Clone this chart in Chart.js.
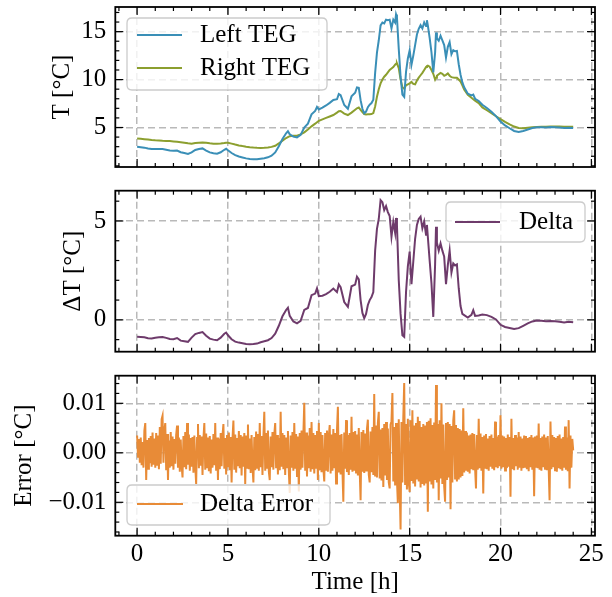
<!DOCTYPE html>
<html><head><meta charset="utf-8">
<script src="https://cdn.jsdelivr.net/npm/chart.js@4.4.1/dist/chart.umd.min.js"></script>
<style>
html,body{margin:0;padding:0;background:#fff;}
#wrap{position:relative;width:612px;height:597px;overflow:hidden;background:#fff;}
canvas{position:absolute;left:0;}
</style></head><body>
<div id="wrap">
<canvas id="c1" width="612" height="180" style="top:0px"></canvas>
<canvas id="c2" width="612" height="180" style="top:180px"></canvas>
<canvas id="c3" width="612" height="237" style="top:360px"></canvas>
</div>
<script>
// ---------- data ----------
const hours = [0,0.2,0.4,0.6,0.8,1,1.2,1.4,1.6,1.8,2,2.2,2.4,2.6,2.8,3,3.2,3.4,3.6,3.8,4,4.2,4.4,4.6,4.8,4.9,5,5.2,5.4,5.6,5.8,6,6.2,6.4,6.6,6.8,7,7.2,7.4,7.6,7.8,8,8.2,8.3,8.4,8.6,8.8,9,9.2,9.4,9.6,9.8,9.9,10,10.2,10.4,10.6,10.8,11,11.1,11.2,11.4,11.6,11.8,12,12.1,12.2,12.3,12.4,12.5,12.6,12.7,12.8,12.9,13,13.1,13.2,13.3,13.4,13.5,13.6,13.7,13.8,13.9,14,14.1,14.2,14.25,14.3,14.4,14.5,14.6,14.7,14.8,14.9,15,15.1,15.2,15.3,15.4,15.5,15.6,15.7,15.8,15.9,15.95,16,16.1,16.2,16.3,16.4,16.45,16.5,16.6,16.7,16.8,16.9,17,17.1,17.2,17.3,17.4,17.5,17.6,17.7,17.8,17.9,18,18.2,18.4,18.5,18.6,18.8,19,19.25,19.5,19.75,20,20.25,20.5,20.75,21,21.25,21.5,21.75,22,22.25,22.5,22.75,23,23.25,23.5,23.75,24];
const leftTEG = [2.99,2.95,2.90,2.81,2.76,2.77,2.77,2.75,2.69,2.61,2.57,2.60,2.42,2.34,2.24,2.40,2.66,2.76,2.82,2.60,2.40,2.31,2.27,2.42,2.68,2.78,2.62,2.34,2.12,1.98,1.88,1.78,1.72,1.69,1.68,1.74,1.80,1.89,2.06,2.40,3.05,3.80,4.40,4.61,4.30,4.05,3.97,4.23,5.00,5.40,6.37,6.73,7.14,6.89,7.07,7.30,7.57,7.88,7.95,8.49,8.37,7.35,6.96,8.25,8.63,9.18,9.14,7.85,6.95,6.48,6.66,7.12,7.38,7.55,7.90,10.70,12.80,14.10,15.65,15.95,15.85,16.25,16.20,16.25,15.35,16.25,15.95,16.80,16.49,13.20,10.30,8.42,8.19,10.80,12.20,13.05,11.55,12.50,13.60,14.70,15.30,15.67,15.33,15.97,15.60,16.20,15.65,14.34,12.85,10.75,12.80,14.91,14.30,14.05,14.57,14.10,13.60,12.30,13.41,13.90,12.65,13.07,12.95,12.99,11.60,10.50,9.70,9.19,8.52,8.35,8.44,8.00,7.77,7.37,7.04,6.65,6.19,5.63,5.22,4.92,4.64,4.54,4.63,4.79,4.94,5.02,5.02,5.01,5.04,5.03,5.00,4.96,4.98,4.95];
const rightTEG = [3.85,3.82,3.78,3.74,3.70,3.67,3.65,3.62,3.60,3.58,3.55,3.52,3.47,3.42,3.35,3.30,3.38,3.42,3.44,3.40,3.35,3.31,3.30,3.32,3.38,3.42,3.40,3.32,3.22,3.13,3.06,3.00,2.95,2.91,2.88,2.87,2.88,2.92,2.98,3.10,3.35,3.62,3.90,4.00,4.10,4.13,4.15,4.28,4.50,4.80,5.12,5.40,5.55,5.69,5.85,6.00,6.15,6.30,6.55,6.70,6.72,6.45,6.30,6.55,6.85,7.00,7.09,6.85,6.60,6.40,6.36,6.37,6.38,6.40,6.50,7.20,8.20,9.00,9.60,10.00,10.30,10.50,10.75,11.00,11.15,11.30,11.55,11.65,11.69,11.20,10.00,9.20,9.05,9.40,9.50,9.60,9.75,9.55,9.50,9.90,10.20,10.45,10.70,11.00,11.30,11.40,11.45,11.34,11.00,10.60,10.00,10.20,10.40,10.55,10.70,10.60,10.40,10.50,10.64,10.40,10.25,10.22,10.20,10.19,10.00,9.80,9.40,8.95,8.40,8.10,7.95,7.80,7.55,7.10,6.80,6.50,6.17,5.88,5.58,5.33,5.10,4.96,4.93,4.97,5.02,5.05,5.07,5.08,5.10,5.10,5.10,5.09,5.08,5.07];
const delta = [-0.86,-0.87,-0.88,-0.93,-0.94,-0.90,-0.88,-0.87,-0.91,-0.97,-0.98,-0.92,-1.05,-1.08,-1.11,-0.90,-0.72,-0.66,-0.62,-0.80,-0.95,-1.00,-1.03,-0.90,-0.70,-0.64,-0.78,-0.98,-1.10,-1.15,-1.18,-1.22,-1.23,-1.22,-1.20,-1.13,-1.08,-1.03,-0.92,-0.70,-0.30,0.18,0.50,0.61,0.20,-0.08,-0.18,-0.05,0.50,0.60,1.25,1.33,1.59,1.20,1.22,1.30,1.42,1.58,1.40,1.79,1.65,0.90,0.66,1.70,1.78,2.18,2.05,1.00,0.35,0.08,0.30,0.75,1.00,1.15,1.40,3.50,4.60,5.10,6.05,5.95,5.55,5.75,5.45,5.25,4.20,4.95,4.40,5.15,4.80,2.00,0.30,-0.78,-0.86,1.40,2.70,3.45,1.80,2.95,4.10,4.80,5.10,5.22,4.63,4.97,4.30,4.80,4.20,3.00,1.85,0.15,2.80,4.71,3.90,3.50,3.87,3.50,3.20,1.80,2.77,3.50,2.40,2.85,2.75,2.80,1.60,0.70,0.30,0.24,0.12,0.25,0.49,0.20,0.22,0.27,0.24,0.15,0.02,-0.25,-0.36,-0.41,-0.46,-0.42,-0.30,-0.18,-0.08,-0.03,-0.05,-0.07,-0.06,-0.07,-0.10,-0.13,-0.10,-0.12];
const errHours = [
0,0.05,0.1,0.15,0.2,0.25,0.3,0.35,0.4,0.45,0.5,0.55,0.6,0.65,0.7,0.75,0.8,0.85,0.9,0.95,
1,1.05,1.1,1.15,1.2,1.25,1.3,1.35,1.4,1.45,1.5,1.55,1.6,1.65,1.7,1.75,1.8,1.85,1.9,1.95,
2,2.05,2.1,2.15,2.2,2.25,2.3,2.35,2.4,2.45,2.5,2.55,2.6,2.65,2.7,2.75,2.8,2.85,2.9,2.95,
3,3.05,3.1,3.15,3.2,3.25,3.3,3.35,3.4,3.45,3.5,3.55,3.6,3.65,3.7,3.75,3.8,3.85,3.9,3.95,
4,4.05,4.1,4.15,4.2,4.25,4.3,4.35,4.4,4.45,4.5,4.55,4.6,4.65,4.7,4.75,4.8,4.85,4.9,4.95,
5,5.05,5.1,5.15,5.2,5.25,5.3,5.35,5.4,5.45,5.5,5.55,5.6,5.65,5.7,5.75,5.8,5.85,5.9,5.95,
6,6.05,6.1,6.15,6.2,6.25,6.3,6.35,6.4,6.45,6.5,6.55,6.6,6.65,6.7,6.75,6.8,6.85,6.9,6.95,
7,7.05,7.1,7.15,7.2,7.25,7.3,7.35,7.4,7.45,7.5,7.55,7.6,7.65,7.7,7.75,7.8,7.85,7.9,7.95,
8,8.05,8.1,8.15,8.2,8.25,8.3,8.35,8.4,8.45,8.5,8.55,8.6,8.65,8.7,8.75,8.8,8.85,8.9,8.95,
9,9.05,9.1,9.15,9.2,9.25,9.3,9.35,9.4,9.45,9.5,9.55,9.6,9.65,9.7,9.75,9.8,9.85,9.9,9.95,
10,10.05,10.1,10.15,10.2,10.25,10.3,10.35,10.4,10.45,10.5,10.55,10.6,10.65,10.7,10.75,10.8,10.85,10.9,10.95,
11,11.05,11.1,11.15,11.2,11.25,11.3,11.35,11.4,11.45,11.5,11.55,11.6,11.65,11.7,11.75,11.8,11.85,11.9,11.95,
12,12.05,12.1,12.15,12.2,12.25,12.3,12.35,12.4,12.45,12.5,12.55,12.6,12.65,12.7,12.75,12.8,12.85,12.9,12.95,
13,13.05,13.1,13.15,13.2,13.25,13.3,13.35,13.4,13.45,13.5,13.55,13.6,13.65,13.7,13.75,13.8,13.85,13.9,13.95,
14,14.05,14.1,14.15,14.2,14.25,14.3,14.35,14.4,14.45,14.5,14.55,14.6,14.65,14.7,14.75,14.8,14.85,14.9,14.95,
15,15.05,15.1,15.15,15.2,15.25,15.3,15.35,15.4,15.45,15.5,15.55,15.6,15.65,15.7,15.75,15.8,15.85,15.9,15.95,
16,16.05,16.1,16.15,16.2,16.25,16.3,16.35,16.4,16.45,16.5,16.55,16.6,16.65,16.7,16.75,16.8,16.85,16.9,16.95,
17,17.05,17.1,17.15,17.2,17.25,17.3,17.35,17.4,17.45,17.5,17.55,17.6,17.65,17.7,17.75,17.8,17.85,17.9,17.95,
18,18.05,18.1,18.15,18.2,18.25,18.3,18.35,18.4,18.45,18.5,18.55,18.6,18.65,18.7,18.75,18.8,18.85,18.9,18.95,
19,19.05,19.1,19.15,19.2,19.25,19.3,19.35,19.4,19.45,19.5,19.55,19.6,19.65,19.7,19.75,19.8,19.85,19.9,19.95,
20,20.05,20.1,20.15,20.2,20.25,20.3,20.35,20.4,20.45,20.5,20.55,20.6,20.65,20.7,20.75,20.8,20.85,20.9,20.95,
21,21.05,21.1,21.15,21.2,21.25,21.3,21.35,21.4,21.45,21.5,21.55,21.6,21.65,21.7,21.75,21.8,21.85,21.9,21.95,
22,22.05,22.1,22.15,22.2,22.25,22.3,22.35,22.4,22.45,22.5,22.55,22.6,22.65,22.7,22.75,22.8,22.85,22.9,22.95,
23,23.05,23.1,23.15,23.2,23.25,23.3,23.35,23.4,23.45,23.5,23.55,23.6,23.65,23.7,23.75,23.8,23.85,23.9,23.95,
24];
const deltaError = [
0.0035,-0.0008,0.0028,-0.0020,0.0031,-0.0025,0.0022,-0.0030,0.0045,0.0060,-0.0055,0.0026,-0.0032,0.0030,-0.0021,0.0034,-0.0028,0.0041,-0.0024,0.0029,
-0.0030,0.0040,-0.0026,0.0035,-0.0033,0.0052,-0.0022,0.0068,0.0075,-0.0020,0.0046,0.0060,-0.0035,0.0038,-0.0055,0.0025,-0.0030,0.0042,-0.0027,0.0033,
-0.0034,0.0028,-0.0022,0.0036,0.0055,-0.0030,0.0031,-0.0038,0.0027,-0.0025,-0.0050,0.0034,-0.0029,0.0042,-0.0033,0.0060,-0.0024,0.0037,-0.0036,0.0030,
-0.0028,0.0032,-0.0040,0.0035,-0.0027,-0.0063,0.0030,0.0058,-0.0031,0.0036,-0.0026,0.0033,-0.0045,0.0028,0.0060,-0.0034,0.0039,-0.0029,0.0031,-0.0037,
0.0034,-0.0042,0.0027,-0.0030,0.0038,-0.0025,0.0060,-0.0036,0.0031,-0.0055,0.0029,-0.0033,0.0040,-0.0027,0.0035,0.0058,-0.0032,0.0030,-0.0044,0.0036,
-0.0029,0.0041,-0.0035,0.0032,-0.0060,0.0028,0.0065,-0.0034,0.0037,-0.0040,0.0030,-0.0027,0.0044,-0.0031,0.0036,-0.0046,0.0033,-0.0028,0.0040,-0.0063,
0.0035,-0.0030,0.0057,-0.0033,0.0029,-0.0041,0.0036,-0.0027,-0.0060,0.0032,-0.0035,0.0043,-0.0030,0.0038,-0.0036,0.0060,-0.0029,0.0034,-0.0045,0.0031,
0.0083,-0.0036,0.0040,-0.0030,0.0045,-0.0038,-0.0055,0.0033,-0.0029,0.0042,-0.0034,0.0037,0.0060,-0.0031,0.0036,-0.0044,0.0030,-0.0035,0.0083,-0.0028,
0.0040,-0.0033,0.0036,-0.0045,0.0031,-0.0029,0.0044,-0.0037,-0.0081,0.0035,-0.0030,0.0042,-0.0036,0.0060,-0.0032,0.0038,-0.0047,0.0033,-0.0078,0.0040,
-0.0034,0.0045,-0.0030,0.0038,0.0101,-0.0036,0.0041,-0.0048,0.0035,-0.0031,0.0050,-0.0038,0.0062,-0.0033,0.0040,-0.0042,0.0036,-0.0030,0.0044,-0.0055,
0.0060,-0.0035,0.0042,-0.0039,0.0036,-0.0031,-0.0058,0.0040,-0.0034,0.0045,-0.0038,0.0033,0.0056,-0.0042,0.0037,-0.0036,0.0048,-0.0031,0.0040,-0.0062,
0.0045,0.0093,-0.0040,0.0036,-0.0044,0.0038,-0.0035,-0.0099,0.0041,-0.0032,0.0066,-0.0039,0.0036,-0.0045,0.0040,-0.0034,0.0073,-0.0038,0.0042,-0.0036,
0.0044,-0.0040,0.0037,-0.0046,0.0050,-0.0035,-0.0096,0.0042,-0.0038,0.0046,-0.0041,0.0039,-0.0036,0.0048,0.0067,-0.0044,-0.0060,0.0043,-0.0039,0.0052,
-0.0045,0.0119,-0.0048,0.0055,-0.0050,0.0060,0.0083,-0.0052,0.0047,-0.0056,0.0050,-0.0069,0.0058,-0.0046,0.0062,-0.0055,0.0049,-0.0060,-0.0072,0.0057,
0.0064,0.0121,-0.0058,0.0052,-0.0066,0.0060,-0.0055,-0.0102,0.0068,-0.0070,-0.0155,0.0062,-0.0060,0.0072,0.0141,-0.0065,0.0058,-0.0074,0.0069,-0.0060,
-0.0079,0.0066,-0.0057,0.0086,-0.0062,0.0055,-0.0068,0.0060,-0.0054,0.0073,-0.0058,0.0064,-0.0070,0.0052,-0.0063,0.0058,-0.0066,0.0055,-0.0060,0.0062,
-0.0119,0.0065,-0.0058,0.0070,-0.0064,0.0056,-0.0072,0.0061,-0.0055,0.0137,-0.0060,0.0058,-0.0096,0.0066,-0.0052,0.0100,-0.0063,0.0057,-0.0068,-0.0099,
0.0060,-0.0055,0.0062,-0.0050,0.0058,-0.0114,0.0054,-0.0060,0.0065,0.0086,-0.0052,0.0056,-0.0058,0.0050,-0.0054,0.0048,-0.0050,0.0045,-0.0047,0.0090,
-0.0040,0.0044,-0.0036,0.0041,-0.0038,0.0035,-0.0042,0.0037,-0.0033,0.0040,-0.0035,0.0038,-0.0030,-0.0072,0.0036,-0.0034,0.0069,-0.0031,0.0039,-0.0036,
0.0032,-0.0082,0.0035,-0.0030,0.0038,-0.0033,0.0029,-0.0036,0.0034,-0.0028,0.0037,-0.0032,0.0030,-0.0035,0.0063,-0.0029,0.0033,-0.0031,0.0036,-0.0027,
0.0076,-0.0032,0.0035,-0.0029,0.0033,-0.0036,0.0030,-0.0031,0.0037,-0.0028,0.0032,-0.0089,0.0069,-0.0033,0.0030,-0.0035,0.0036,-0.0027,0.0031,-0.0034,
0.0042,-0.0030,0.0033,-0.0036,0.0029,-0.0031,0.0035,-0.0028,0.0034,-0.0033,0.0030,-0.0037,0.0032,-0.0029,0.0036,-0.0034,0.0031,-0.0088,0.0033,-0.0030,
0.0035,-0.0031,0.0059,-0.0034,0.0030,-0.0036,0.0033,-0.0029,0.0037,-0.0032,0.0031,-0.0035,0.0034,-0.0030,-0.0096,0.0063,-0.0033,0.0036,-0.0029,0.0032,
-0.0035,0.0030,-0.0038,0.0034,-0.0031,0.0037,-0.0033,0.0029,-0.0036,0.0032,-0.0030,0.0053,-0.0034,0.0031,-0.0037,0.0066,-0.0072,0.0035,-0.0030,0.0028,
0.0005];
const xTicks = [0,5,10,15,20,25];
const xMinor = [-1,1,2,3,4,6,7,8,9,11,12,13,14,16,17,18,19,21,22,23,24];
const tTicks = [5,10,15];
const tMinor = [1,2,3,4,6,7,8,9,11,12,13,14,16,17];
const dTicks = [0,5];
const dMinor = [-1,1,2,3,4,6];
const eTicks = [-0.01,0,0.01];
const eMinor = [-0.016,-0.014,-0.012,-0.008,-0.006,-0.004,-0.002,0.002,0.004,0.006,0.008,0.012,0.014];

// ---------- style ----------
const FONT = '"Liberation Serif", "Times New Roman", serif';
const FS = 25;
const GRID = '#b9b9b9';
const C_LEFT = '#3a8fb7', C_RIGHT = '#8c9f2f', C_DELTA = '#6e3b6b', C_ERR = '#e88b37';
const fmtInt = v => String(v);
const fmt2 = v => (v < 0 ? '\u2212' : '') + Math.abs(v).toFixed(2);

const sciPlugin = {
  id: 'sci',
  afterDatasetsDraw(chart, args, o) {
    const {ctx, chartArea: a, scales: {x, y}} = chart;
    ctx.save();
    ctx.strokeStyle = '#000';
    ctx.lineWidth = 1.2;
    const seg = (x0, y0, x1, y1) => { ctx.beginPath(); ctx.moveTo(x0, y0); ctx.lineTo(x1, y1); ctx.stroke(); };
    const xt = (vals, len) => vals.forEach(v => { const p = x.getPixelForValue(v); if (p < a.left || p > a.right) return; seg(p, a.bottom, p, a.bottom - len); seg(p, a.top, p, a.top + len); });
    const yt = (vals, len) => vals.forEach(v => { const p = y.getPixelForValue(v); if (p < a.top || p > a.bottom) return; seg(a.left, p, a.left + len, p); seg(a.right, p, a.right - len, p); });
    xt(xTicks, 8); xt(xMinor, 4); yt(o.yMajor, 8); yt(o.yMinor, 4);
    ctx.lineWidth = 1.8;
    ctx.strokeRect(a.left, a.top, a.right - a.left, a.bottom - a.top);
    ctx.restore();
  },
  afterDraw(chart, args, o) {
    const L = o.legend; if (!L) return;
    const ctx = chart.ctx;
    ctx.save();
    const r = 5, {l, t, w, h} = L.box;
    ctx.beginPath();
    ctx.moveTo(l + r, t); ctx.lineTo(l + w - r, t); ctx.quadraticCurveTo(l + w, t, l + w, t + r);
    ctx.lineTo(l + w, t + h - r); ctx.quadraticCurveTo(l + w, t + h, l + w - r, t + h);
    ctx.lineTo(l + r, t + h); ctx.quadraticCurveTo(l, t + h, l, t + h - r);
    ctx.lineTo(l, t + r); ctx.quadraticCurveTo(l, t, l + r, t); ctx.closePath();
    ctx.fillStyle = 'rgba(255,255,255,0.8)'; ctx.fill();
    ctx.strokeStyle = 'rgba(200,200,200,0.95)'; ctx.lineWidth = 1.3; ctx.stroke();
    ctx.font = FS + 'px ' + FONT; ctx.textBaseline = 'middle'; ctx.textAlign = 'left';
    chart.data.datasets.forEach((ds, i) => {
      const yy = L.rows[i];
      ctx.strokeStyle = ds.borderColor; ctx.lineWidth = ds.borderWidth;
      ctx.beginPath(); ctx.moveTo(L.x0, yy); ctx.lineTo(L.x1, yy); ctx.stroke();
      ctx.fillStyle = '#000'; ctx.fillText(ds.label, L.tx, yy);
    });
    ctx.restore();
  }
};

function pts(xs, ys) { return xs.map((v, i) => ({x: v, y: ys[i]})); }
function ds(label, xs, ys, color) {
  return {label, data: pts(xs, ys), borderColor: color, backgroundColor: color, borderWidth: 2, pointRadius: 0, tension: 0, fill: false};
}

function makeChart(id, cfg) {
  return new Chart(document.getElementById(id), {
    type: 'line',
    data: {datasets: cfg.datasets},
    options: {
      responsive: false, animation: false, devicePixelRatio: 1,
      layout: {padding: {left: cfg.padLeft, right: 17, top: cfg.padTop, bottom: 0}},
      plugins: {legend: {display: false}, tooltip: {enabled: false}, sci: {yMajor: cfg.yMajor, yMinor: cfg.yMinor, legend: cfg.legend}},
      scales: {
        x: {
          type: 'linear', min: -1.2, max: 25.2,
          afterBuildTicks: s => { s.ticks = xTicks.map(v => ({value: v})); },
          afterFit: s => { s.height = cfg.xHeight; s.paddingLeft = 0; s.paddingRight = 0; s.paddingTop = 0; s.paddingBottom = 0; },
          grid: {color: GRID, lineWidth: 1.5, drawTicks: false},
          border: {display: false, dash: [7, 4]},
          ticks: {display: cfg.xLabels, autoSkip: false, maxRotation: 0, padding: 4, color: '#000', font: {family: FONT, size: FS}},
          title: {display: cfg.xLabels, text: 'Time [h]', color: '#000', font: {family: FONT, size: FS}, padding: {top: 0, bottom: 0}}
        },
        y: {
          type: 'linear', min: cfg.yMin, max: cfg.yMax,
          afterBuildTicks: s => { s.ticks = cfg.yMajor.map(v => ({value: v})); },
          afterFit: s => { s.width = 115.3 - cfg.padLeft; s.paddingLeft = 0; s.paddingRight = 0; s.paddingTop = 0; s.paddingBottom = 0; },
          grid: {color: GRID, lineWidth: 1.5, drawTicks: false},
          border: {display: false, dash: [7, 4]},
          ticks: {autoSkip: false, padding: 9, color: '#000', font: {family: FONT, size: FS}, callback: cfg.fmt},
          title: {display: true, text: cfg.yTitle, color: '#000', font: {family: FONT, size: FS}, padding: 0}
        }
      }
    },
    plugins: [sciPlugin]
  });
}

makeChart('c1', {
  datasets: [ds('Left TEG', hours, leftTEG, C_LEFT), ds('Right TEG', hours, rightTEG, C_RIGHT)],
  padLeft: 47, padTop: 7, xHeight: 13, xLabels: false,
  yMin: 0.88, yMax: 17.57, yMajor: tTicks, yMinor: tMinor, fmt: fmtInt, yTitle: 'T [°C]',
  legend: {box: {l: 127, t: 18, w: 200, h: 72}, rows: [35, 68], x0: 137, x1: 182, tx: 200}
});
makeChart('c2', {
  datasets: [ds('Delta', hours, delta, C_DELTA)],
  padLeft: 58, padTop: 10.7, xHeight: 8.3, xLabels: false,
  yMin: -1.61, yMax: 6.53, yMajor: dTicks, yMinor: dMinor, fmt: fmtInt, yTitle: 'ΔT [°C]',
  legend: {box: {l: 446, t: 22, w: 139, h: 40}, rows: [42], x0: 455, x1: 500, tx: 519}
});
makeChart('c3', {
  datasets: [ds('Delta Error', errHours, deltaError, C_ERR)],
  padLeft: 9, padTop: 15.7, xHeight: 61.3, xLabels: true,
  yMin: -0.01675, yMax: 0.01558, yMajor: eTicks, yMinor: eMinor, fmt: fmt2, yTitle: 'Error [°C]',
  legend: {box: {l: 127, t: 125, w: 203, h: 40}, rows: [144], x0: 137, x1: 183, tx: 200}
});
</script>
</body></html>
